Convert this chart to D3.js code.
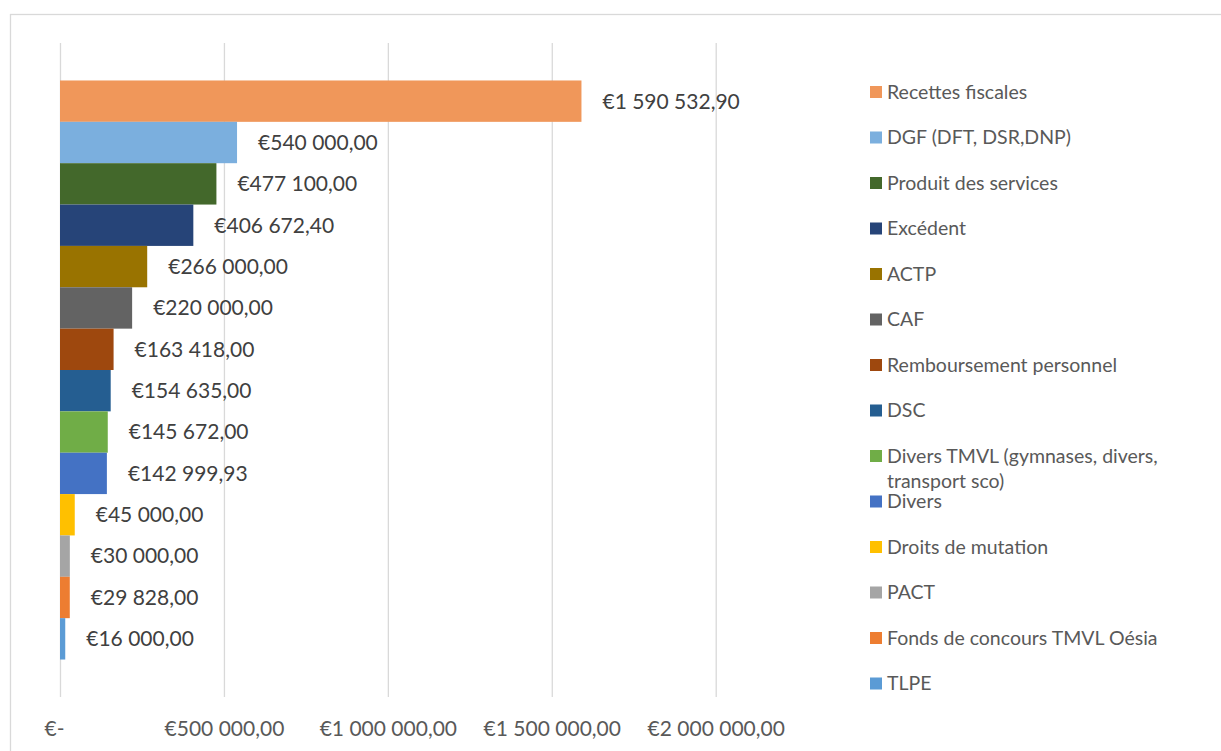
<!DOCTYPE html>
<html>
<head>
<meta charset="utf-8">
<script src="https://cdn.jsdelivr.net/npm/d3@7"></script>
<style>
  body { margin: 0; background: #fff; }
  svg { display: block; }
  text { font-family: Lato, "Open Sans", sans-serif; }
</style>
</head>
<body>
<div id="chart"></div>
<script>
// categories (one series per bar, top to bottom)
var postes = ["Recettes fiscales", "DGF (DFT, DSR,DNP)", "Produit des services", "Excédent", "ACTP", "CAF",
    "Remboursement personnel", "DSC", "Divers TMVL (gymnases, divers, transport sco)", "Divers",
    "Droits de mutation", "PACT", "Fonds de concours TMVL Oésia", "TLPE"];
var montants = [1590532.90, 540000.00, 477100.00, 406672.40, 266000.00, 220000.00,
    163418.00, 154635.00, 145672.00, 142999.93, 45000.00, 30000.00, 29828.00, 16000.00];
var kleuren = ["#F0975A", "#7BAFDE", "#43682B", "#264478", "#997300", "#636363",
    "#9E480E", "#255E91", "#70AD47", "#4472C4", "#FFC000", "#A5A5A5", "#ED7D31", "#5B9BD5"];
var ticks = [0, 500000, 1000000, 1500000, 2000000];

var breedte = 1221, hoogte = 751;
var plot = { left: 60, right: 715.7, top: 43, bottom: 697 };

var fr = d3.formatLocale({ decimal: ",", thousands: "\u00a0", grouping: [3], currency: ["€", ""] });
var euro = fr.format("$,.2f");
function euroTxt(v) { return v === 0 ? "€-" : euro(v).replace(/\u00a0/g, " "); }

var svg = d3.select("#chart")
    .append("svg")
    .attr("width", breedte)
    .attr("height", hoogte);

// chart border (runs off the right and bottom edge)
svg.append("rect")
    .attr("x", 10.5).attr("y", 14.5)
    .attr("width", 1300).attr("height", 800)
    .attr("fill", "none")
    .attr("stroke", "#D9D9D9")
    .attr("stroke-width", 1.3);

var x = d3.scaleLinear()
    .domain([0, 2000000])
    .range([plot.left, plot.right]);

var y = d3.scaleBand()
    .domain(postes)
    .range([plot.top, plot.bottom])
    .paddingInner(0)
    .paddingOuter(0.906);

// gridlines + tick labels
var as = svg.append("g")
    .attr("transform", "translate(0," + plot.bottom + ")")
    .call(d3.axisBottom(x)
        .tickValues(ticks)
        .tickSize(-(plot.bottom - plot.top))
        .tickPadding(24)
        .tickFormat(euroTxt));
as.select(".domain").remove();
as.selectAll(".tick line")
    .attr("stroke", "#D9D9D9")
    .attr("stroke-width", 1.3);
as.selectAll(".tick text")
    .attr("fill", "#595959")
    .attr("font-size", 21)
    .attr("dx", function (d) { return d === 0 ? -6 : 0; });

// bars
svg.selectAll("rect.balk")
    .data(montants)
    .enter()
    .append("rect")
    .attr("class", "balk")
    .attr("x", x(0))
    .attr("y", function (d, i) { return y(postes[i]); })
    .attr("width", function (d) { return x(d) - x(0); })
    .attr("height", y.bandwidth())
    .attr("fill", function (d, i) { return kleuren[i]; });

// data labels
svg.selectAll("text.waarde")
    .data(montants)
    .enter()
    .append("text")
    .attr("class", "waarde")
    .attr("x", function (d) { return x(d) + 21; })
    .attr("y", function (d, i) { return y(postes[i]) + y.bandwidth() / 2; })
    .attr("dy", "0.35em")
    .attr("fill", "#404040")
    .attr("font-size", 21)
    .text(euroTxt);

// legend
var legY = d3.scalePoint()
    .domain(postes)
    .range([92, 92 + 13 * 45.5]);

var leg = svg.selectAll("g.leg")
    .data(postes)
    .enter()
    .append("g")
    .attr("class", "leg")
    .attr("transform", function (d) { return "translate(870," + legY(d) + ")"; });

leg.append("rect")
    .attr("x", 0).attr("y", -6)
    .attr("width", 12).attr("height", 12)
    .attr("fill", function (d, i) { return kleuren[i]; });

leg.append("text")
    .attr("x", 17)
    .attr("fill", "#595959")
    .attr("font-size", 19.5)
    .each(function (d) {
        var t = d3.select(this);
        var woorden = d.split(" ");
        var regel = [];
        var ts = t.append("tspan").attr("x", 17).attr("dy", "0.35em");
        woorden.forEach(function (w) {
            regel.push(w);
            ts.text(regel.join(" "));
            if (ts.node().getComputedTextLength() > 300 && regel.length > 1) {
                regel.pop();
                ts.text(regel.join(" "));
                regel = [w];
                ts = t.append("tspan").attr("x", 17).attr("dy", 25).text(w);
            }
        });
    });
</script>
</body>
</html>
